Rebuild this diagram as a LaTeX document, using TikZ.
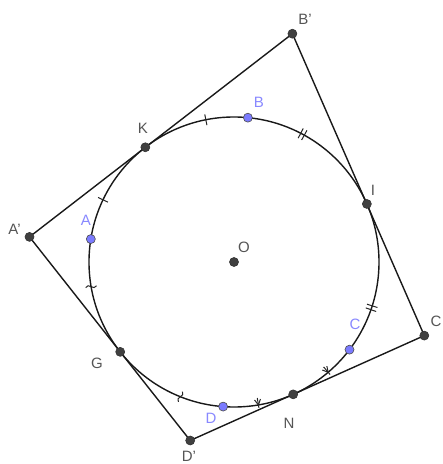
\documentclass[tikz,border=0pt]{standalone}
\usepackage{fontspec}
\setmainfont{Liberation Sans}
\usetikzlibrary{calc}
\definecolor{ptdark}{HTML}{404040}
\definecolor{ptblue}{HTML}{7B7BFF}
\definecolor{lblgray}{HTML}{555555}
\definecolor{lblblue}{HTML}{8888FF}
\newcommand{\pr}{\char"0027\relax}
\tikzset{
  seg/.style={line width=1.4pt, black!90},
  circ/.style={line width=1.4pt, black!90},
  mk/.style={line width=1pt, black!85},
  darkpt/.style={circle, fill=ptdark, draw=black!80, line width=0.6pt, minimum size=9pt, inner sep=0pt},
  bluept/.style={circle, fill=ptblue, draw=black!70, line width=0.6pt, minimum size=9pt, inner sep=0pt},
  lbl/.style={text=lblgray, font=\fontsize{15}{17}\selectfont, inner sep=0pt},
  blbl/.style={text=lblblue, font=\fontsize{15}{17}\selectfont, inner sep=0pt}
}
\newcommand{\tickmk}[1]{\draw[mk] ($(O)+(#1:139.5)$) -- ($(O)+(#1:150.5)$);}
\newcommand{\tildemk}[1]{\begin{scope}[shift={($(O)+(#1:145)$)}, rotate=#1]\draw[mk] (-5.5,0) .. controls (-2,5) and (2,-5) .. (5.5,0);\end{scope}}
\newcommand{\arrowmk}[1]{\begin{scope}[shift={($(O)+(#1:145)$)}, rotate=#1]\draw[mk] (-7,0) -- (3,0); \draw[mk] (-5.5,-3) -- (0,0) -- (-5.5,3);\end{scope}}
\begin{document}
\begin{tikzpicture}[x=1pt,y=1pt]
\useasboundingbox (0,0) rectangle (443,464);
\coordinate (O) at (234,202);
\def\R{145}
% tangency points
\coordinate (K) at ($(O)+(127.7:\R)$);
\coordinate (I) at ($(O)+(23.6:\R)$);
\coordinate (G) at ($(O)+(218.3:\R)$);
\coordinate (N) at ($(O)+(294.1:\R)$);
% quadrilateral vertices
\coordinate (Ap) at (29.5,227.1);
\coordinate (Bp) at (292.4,430.3);
\coordinate (Cp) at (424.3,128.4);
\coordinate (Dp) at (190.2,23.5);
% points on circle
\coordinate (A) at ($(O)+(170.9:\R)$);
\coordinate (B) at ($(O)+(84.5:\R)$);
\coordinate (C) at ($(O)+(322.8:\R)$);
\coordinate (D) at ($(O)+(265.7:\R)$);
% circle
\draw[circ] (O) circle (\R);
% sides
\draw[seg] (Ap) -- (Bp);
\draw[seg] (Bp) -- (Cp);
\draw[seg] (Cp) -- (Dp);
\draw[seg] (Dp) -- (Ap);
% marks
\tickmk{154.6}
\tickmk{101.2}
\tickmk{61.0}\tickmk{62.6}
\tickmk{-17.6}\tickmk{-19.2}
\tildemk{189.8}
\tildemk{248.3}
\arrowmk{279.7}
\arrowmk{310.5}
% points
\foreach \p in {K,I,G,N,Ap,Bp,Cp,Dp,O} \node[darkpt] at (\p) {};
\foreach \p in {A,B,C,D} \node[bluept] at (\p) {};
% labels
\node[lbl] (lBp) at (305,445) {B\pr};
\node[lbl] (lK) at (143,336) {K};
\node[lbl] (lI) at (373,274) {I};
\node[lbl] (lAp) at (14.5,235) {A\pr};
\node[lbl] (lO) at (244,217) {O};
\node[lbl] (lCp) at (436,143) {C};
\node[lbl] (lG) at (97,101) {G};
\node[lbl] (lN) at (289,41) {N};
\node[lbl] (lDp) at (189,8) {D\pr};
\node[blbl] (lA) at (86,244) {A};
\node[blbl] (lB) at (259,362) {B};
\node[blbl] (lC) at (355,140) {C};
\node[blbl] (lD) at (211,46) {D};
\end{tikzpicture}
\end{document}
